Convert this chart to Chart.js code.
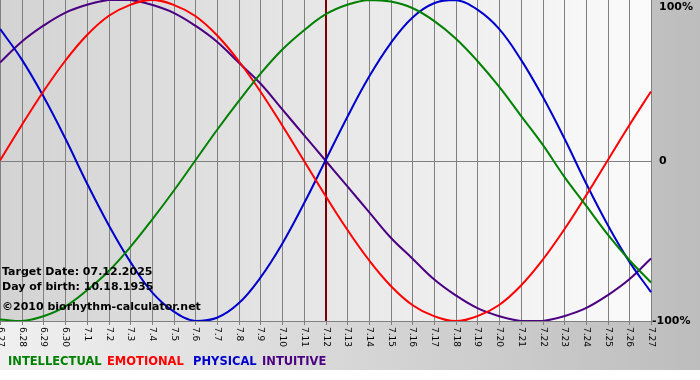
<!DOCTYPE html>
<html>
<head>
<meta charset="utf-8">
<script src="https://cdn.jsdelivr.net/npm/chart.js@4.4.1/dist/chart.umd.min.js"></script>
<style>
  html, body { margin: 0; padding: 0; background: #ffffff; }
  canvas { display: block; }
</style>
</head>
<body>
<canvas id="bioChart" width="700" height="380"></canvas>
<script>
// days shown on the chart
const dayLabels = ['6.27', '6.28', '6.29', '6.30', '7.1', '7.2', '7.3', '7.4', '7.5', '7.6',
    '7.7', '7.8', '7.9', '7.10', '7.11', '7.12', '7.13', '7.14', '7.15', '7.16', '7.17',
    '7.18', '7.19', '7.20', '7.21', '7.22', '7.23', '7.24', '7.25', '7.26', '7.27'];

// cycle values in percent, read per day
const intellectual = [-99, -100, -97, -91, -81, -69, -54, -37, -19, 0, 19, 37, 54, 69, 81, 91,
    97, 100, 99, 95, 87, 76, 62, 46, 28, 10, -10, -28, -46, -62, -76];
const emotional = [0, 22, 43, 62, 78, 90, 97, 100, 97, 90, 78, 62, 43, 22, 0, -22,
    -43, -62, -78, -90, -97, -100, -97, -90, -78, -62, -43, -22, 0, 22, 43];
const physical = [82, 63, 40, 14, -14, -40, -63, -82, -94, -100, -98, -89, -73, -52, -27, 0,
    27, 52, 73, 89, 98, 100, 94, 82, 63, 40, 14, -14, -40, -63, -82];
const intuitive = [61, 74, 84, 92, 97, 100, 100, 97, 92, 84, 74, 61, 48, 32, 16, 0,
    -16, -32, -48, -61, -74, -84, -92, -97, -100, -100, -97, -92, -84, -74, -61];

const yTickValues = [100, 0, -100];
const yTickLabels = ['100%', '0', '-100%'];
const targetDay = '7.12';

const infoLines = ['Target Date: 07.12.2025', 'Day of birth: 10.18.1935', '\u00a92010 biorhythm-calculator.net'];
const legendNames = ['INTELLECTUAL', 'EMOTIONAL', 'PHYSICAL', 'INTUITIVE'];
const legendColors = ['#008000', '#ff0000', '#0000cc', '#4b0082'];
const legendX = [8, 107, 193, 262];

const FONT = "'DejaVu Sans', Verdana, sans-serif";

const bioBackground = {
    id: 'bioBackground',
    beforeDraw(chart) {
        const ctx = chart.ctx;
        const area = chart.chartArea;
        const xs = chart.scales.x;
        const ys = chart.scales.y;
        ctx.save();

        // outer panel
        const outer = ctx.createLinearGradient(0, 0, chart.width, 0);
        outer.addColorStop(0, '#f0f0f0');
        outer.addColorStop(1, '#bdbdbd');
        ctx.fillStyle = outer;
        ctx.fillRect(0, 0, chart.width, 370);

        // plot background
        const inner = ctx.createLinearGradient(area.left, 0, area.right, 0);
        inner.addColorStop(0, '#d3d3d3');
        inner.addColorStop(1, '#fbfbfb');
        ctx.fillStyle = inner;
        ctx.fillRect(area.left, area.top, area.right - area.left, area.bottom - area.top);

        // day grid + ticks
        ctx.strokeStyle = '#808080';
        ctx.lineWidth = 1;
        ctx.beginPath();
        dayLabels.forEach((_, i) => {
            const px = Math.round(xs.getPixelForValue(i)) + 0.5;
            ctx.moveTo(px, area.top);
            ctx.lineTo(px, area.bottom + 4);
        });
        const zy = Math.round(ys.getPixelForValue(0)) + 0.5;
        ctx.moveTo(area.left, zy);
        ctx.lineTo(area.right, zy);
        const by = Math.round(area.bottom) + 0.5;
        ctx.moveTo(area.left, by);
        ctx.lineTo(area.right, by);
        ctx.stroke();
        ctx.restore();
    },
    beforeDatasetsDraw(chart) {
        const ctx = chart.ctx;
        const area = chart.chartArea;
        const px = Math.round(chart.scales.x.getPixelForValue(dayLabels.indexOf(targetDay)));
        ctx.save();
        ctx.strokeStyle = '#7a0000';
        ctx.lineWidth = 2;
        ctx.beginPath();
        ctx.moveTo(px, area.top);
        ctx.lineTo(px, area.bottom);
        ctx.stroke();
        ctx.restore();
    },
    afterDraw(chart) {
        const ctx = chart.ctx;
        const area = chart.chartArea;
        const xs = chart.scales.x;
        const ys = chart.scales.y;
        ctx.save();

        // rotated day labels
        ctx.fillStyle = '#000000';
        ctx.font = '9px ' + FONT;
        ctx.textAlign = 'left';
        ctx.textBaseline = 'middle';
        dayLabels.forEach((lab, i) => {
            const px = Math.round(xs.getPixelForValue(i)) + 0.5;
            ctx.save();
            ctx.translate(px, area.bottom + 6);
            ctx.rotate(Math.PI / 2);
            ctx.fillText(lab, 0, 0);
            ctx.restore();
        });

        // percent labels on the right
        ctx.font = 'bold 11px ' + FONT;
        ctx.textBaseline = 'middle';
        ctx.textAlign = 'left';
        yTickValues.forEach((v, i) => {
            const py = ys.getPixelForValue(v);
            let py2 = py;
            if (v === 100) py2 = py + 7;
            if (v === 0) py2 = py + 1;
            ctx.fillText(yTickLabels[i], v < 0 ? area.right + 1 : area.right + 8, py2);
        });

        // info text
        ctx.font = 'bold 11px ' + FONT;
        ctx.fillText(infoLines[0], 2, 272);
        ctx.fillText(infoLines[1], 2, 287);
        ctx.fillText(infoLines[2], 2, 307);

        // legend
        ctx.font = 'bold 11.5px ' + FONT;
        legendNames.forEach((name, i) => {
            ctx.fillStyle = legendColors[i];
            ctx.fillText(name, legendX[i], 362);
        });
        ctx.restore();
    }
};

function lineSet(label, data, color) {
    return {
        label: label,
        data: data,
        borderColor: color,
        borderWidth: 2,
        pointRadius: 0,
        fill: false,
        tension: 0.4
    };
}

new Chart(document.getElementById('bioChart'), {
    type: 'line',
    data: {
        labels: dayLabels,
        datasets: [
            lineSet('INTELLECTUAL', intellectual, legendColors[0]),
            lineSet('EMOTIONAL', emotional, legendColors[1]),
            lineSet('PHYSICAL', physical, legendColors[2]),
            lineSet('INTUITIVE', intuitive, legendColors[3])
        ]
    },
    options: {
        responsive: false,
        animation: false,
        layout: { padding: { left: 0, top: 0, right: 49, bottom: 59 } },
        plugins: {
            legend: { display: false },
            tooltip: { enabled: false }
        },
        scales: {
            x: { display: false, offset: false },
            y: { display: false, min: -100, max: 100 }
        }
    },
    plugins: [bioBackground]
});
</script>
</body>
</html>
